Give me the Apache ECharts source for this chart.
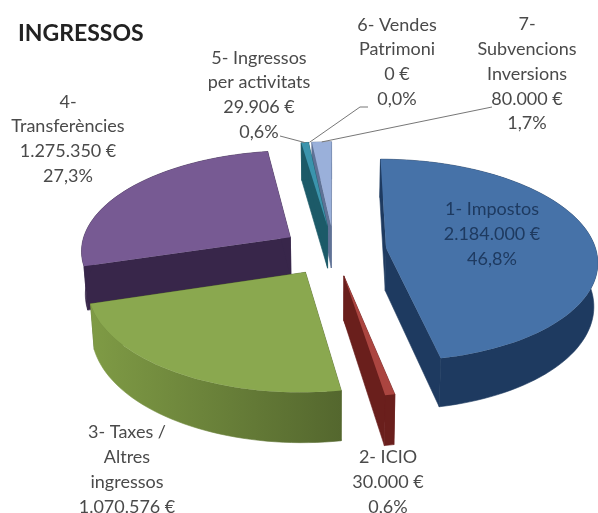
<!DOCTYPE html>
<html>
<head>
<meta charset="utf-8">
<style>
  html, body { margin: 0; padding: 0; background: #fff; }
  #container { width: 598px; height: 513px; }
</style>
<script src="https://cdn.jsdelivr.net/npm/echarts@6/dist/echarts.min.js"></script>
</head>
<body>
<div id="container"></div>
<script>
const names = ['1- Impostos', '2- ICIO', '3- Taxes /\nAltres\ningressos', '4-\nTransferències', '5- Ingressos\nper activitats', '6- Vendes\nPatrimoni', '7-\nSubvencions\nInversions'];
const values = [2184000, 30000, 1070576, 1275350, 29906, 0, 80000];
const amounts = ['2.184.000 €', '30.000 €', '1.070.576 €', '1.275.350 €', '29.906 €', '0 €', '80.000 €'];
const percents = ['46,8%', '0,6%', '22,9%', '27,3%', '0,6%', '0,0%', '1,7%'];

const topColors = ['#4672a8', '#ab4540', '#8aa84f', '#775a93', '#3b94ad', '#e08a3c', '#9ab0da'];
const wallColors = ['#1e3a60', '#6a1f1c', ['#7f9b45', '#54672e'], '#38264a', '#1c5a68', '#8a5220', '#5f7296'];

// label block centres, in pixels (the last line of label 3 runs off the page, as in the original)
const labelX = [492, 388, 127, 68, 259, 397, 527];
const labelY = [234, 482, 482, 139, 95, 62, 74];
const labelColors = ['#1e3a60', '#4a4a4a', '#4a4a4a', '#4a4a4a', '#4a4a4a', '#4a4a4a', '#4a4a4a'];
// where the leader lines leave the text
const leaderFrom = [null, null, null, null, [[280, 136]], [[368, 107], [360, 107]], [[492, 107]]];

const total = values.reduce((a, b) => a + b, 0);

// pie geometry: unit circle on a tilted plane, seen with a little perspective
const centerX = 334, centerY = 250.5;
const scaleX = 210, scaleY = 100;
const perspective = 0.12;
const explode = 0.25;
const depth = 43;
const converge = 0.015;

function project(x, y) {
    const w = 1 - perspective * y;
    return { x: centerX + scaleX * x / w, y: centerY + scaleY * y / w, d: depth / w };
}

function onPlane(cx, cy, r, deg) {
    const a = deg * Math.PI / 180;
    return project(cx + r * Math.sin(a), cy - r * Math.cos(a));
}

function down(p) {
    return [p.x + (centerX - p.x) * converge, p.y + p.d];
}

function renderSlice(params, api) {
    const i = params.dataIndex;
    const before = values.slice(0, i).reduce((a, b) => a + b, 0);
    const start = before / total * 360;
    const end = (before + api.value(0)) / total * 360;
    const mid = (start + end) / 2 * Math.PI / 180;
    const cx = explode * Math.sin(mid);
    const cy = -explode * Math.cos(mid);

    const children = [];
    // far slices are painted first
    const z = 1100 - Math.round(Math.cos(mid) * 1000);

    if (end > start) {
        const apex = project(cx, cy);
        const arc = [];
        const steps = Math.max(2, Math.ceil((end - start) / 2));
        for (let s = 0; s <= steps; s++) {
            arc.push(onPlane(cx, cy, 1, start + (end - start) * s / steps));
        }
        const first = arc[0], last = arc[arc.length - 1];
        const wall = wallColors[i];
        const wallFill = Array.isArray(wall)
            ? new echarts.graphic.LinearGradient(0, 0, 1, 0, [
                { offset: 0, color: wall[0] }, { offset: 1, color: wall[1] }])
            : wall;
        const flat = Array.isArray(wall) ? wall[1] : wall;

        children.push({ type: 'polygon', z2: z,
            shape: { points: [[apex.x, apex.y], [first.x, first.y], down(first), down(apex)] },
            style: { fill: flat, stroke: flat, lineWidth: 0.6 } });
        children.push({ type: 'polygon', z2: z,
            shape: { points: [[apex.x, apex.y], [last.x, last.y], down(last), down(apex)] },
            style: { fill: flat, stroke: flat, lineWidth: 0.6 } });
        children.push({ type: 'polygon', z2: z,
            shape: { points: arc.map(p => [p.x, p.y]).concat(arc.slice().reverse().map(down)) },
            style: { fill: wallFill, stroke: wallFill, lineWidth: 0.6 } });
        children.push({ type: 'polygon', z2: z,
            shape: { points: [[apex.x, apex.y]].concat(arc.map(p => [p.x, p.y])) },
            style: { fill: topColors[i] } });
    }

    if (leaderFrom[i]) {
        const tip = onPlane(cx, cy, 1, (start + end) / 2);
        children.push({ type: 'polyline', z2: 3000,
            shape: { points: leaderFrom[i].concat([[tip.x, tip.y]]) },
            style: { fill: null, stroke: '#777', lineWidth: 1 } });
    }

    children.push({ type: 'text', z2: 4000,
        style: {
            text: names[i] + '\n' + amounts[i] + '\n' + percents[i],
            x: labelX[i], y: labelY[i],
            align: 'center', verticalAlign: 'middle',
            fill: labelColors[i],
            font: '18px Lato',
            lineHeight: 24.8
        } });

    return { type: 'group', children: children };
}

const dom = document.getElementById('container');
const myChart = echarts.init(dom, null, { renderer: 'canvas' });

const option = {
    animation: false,
    backgroundColor: '#fff',
    title: {
        text: 'INGRESSOS',
        left: 18,
        top: 22,
        padding: 0,
        textStyle: { fontFamily: 'Lato', fontSize: 23, fontWeight: 'bold', color: '#222' }
    },
    series: [{
        type: 'custom',
        coordinateSystem: 'none',
        renderItem: renderSlice,
        data: values.map(v => [v])
    }]
};

myChart.setOption(option);
window.addEventListener('resize', myChart.resize);
</script>
</body>
</html>
